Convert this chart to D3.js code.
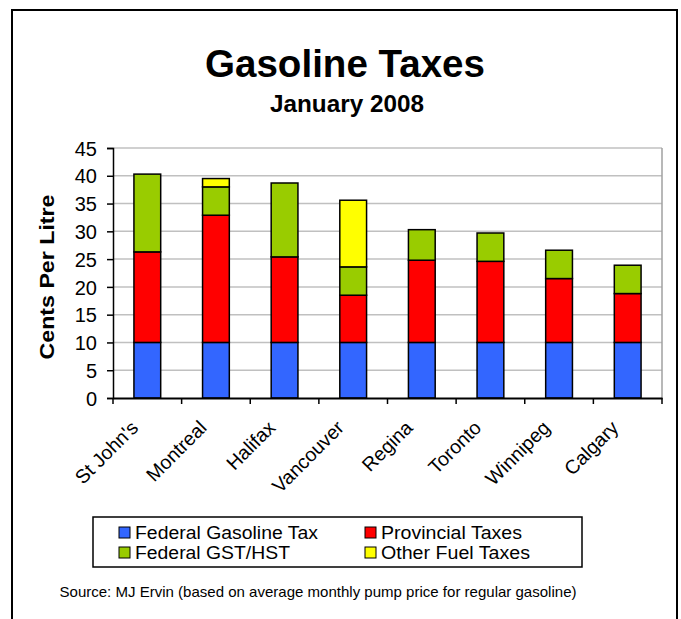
<!DOCTYPE html>
<html><head><meta charset="utf-8">
<script src="https://cdn.jsdelivr.net/npm/d3@7"></script>
<style>body{margin:0;background:#fff}svg{display:block}text{font-family:"Liberation Sans",Arial,sans-serif;fill:#000}</style>
</head><body><svg id="c" width="681" height="619"></svg>
<script>
const cities = ["St John's","Montreal","Halifax","Vancouver","Regina","Toronto","Winnipeg","Calgary"];
const federalGasolineTax = [10,10,10,10,10,10,10,10];
const provincialTaxes   = [16.3,22.9,15.4,8.5,14.8,14.6,11.5,8.8];
const federalGstHst     = [14.0,5.1,13.3,5.1,5.5,5.1,5.1,5.1];
const otherFuelTaxes    = [0,1.5,0,12.0,0,0,0,0];
const seriesNames = ["Federal Gasoline Tax","Provincial Taxes","Federal GST/HST","Other Fuel Taxes"];
const seriesColors = ["#3366FF","#FF0000","#99CC00","#FFFF00"];
const yTicks = [0,5,10,15,20,25,30,35,40,45];

const svg = d3.select("#c");
svg.append("path").attr("d","M12,625 V10 H677 V625").attr("fill","none").attr("stroke","#000").attr("stroke-width",2);

const L=113, R=662, T=148, B=398;
const x = d3.scaleBand().domain(cities).range([L,R]).paddingInner(0.61).paddingOuter(0.305);
const xb = d3.scaleBand().domain(cities).range([L,R]);
const y = d3.scaleLinear().domain([0,45]).range([B,T]);

svg.append("g").selectAll("line").data(yTicks.slice(1)).join("line")
  .attr("x1",L).attr("x2",R).attr("y1",d=>y(d)).attr("y2",d=>y(d))
  .attr("stroke","#c0c0c0").attr("stroke-width",1.5);
svg.append("line").attr("x1",R).attr("x2",R).attr("y1",T).attr("y2",B).attr("stroke","#a0a0a0").attr("stroke-width",1.5);

const rows = cities.map((c,i)=>({city:c,"Federal Gasoline Tax":federalGasolineTax[i],"Provincial Taxes":provincialTaxes[i],"Federal GST/HST":federalGstHst[i],"Other Fuel Taxes":otherFuelTaxes[i]}));
const stack = d3.stack().keys(seriesNames)(rows);
svg.append("g").selectAll("g").data(stack).join("g")
  .attr("fill",(d,i)=>seriesColors[i])
  .selectAll("rect").data(d=>d.filter(p=>p[1]-p[0]>0)).join("rect")
  .attr("x",d=>x(d.data.city)).attr("width",x.bandwidth())
  .attr("y",d=>y(d[1])).attr("height",d=>y(d[0])-y(d[1]))
  .attr("stroke","#000").attr("stroke-width",1.5);

const ya = svg.append("g").attr("transform",`translate(${L},0)`)
  .call(d3.axisLeft(y).tickValues(yTicks).tickSize(6).tickPadding(10));
ya.select(".domain").attr("stroke","#000").attr("stroke-width",1.5);
ya.selectAll(".tick line").attr("stroke","#000").attr("stroke-width",1.5);
ya.selectAll("text").attr("font-size",20).attr("dy","0.36em");

const xa = svg.append("g").attr("transform",`translate(0,${B})`)
  .call(d3.axisBottom(xb).tickSize(0).tickFormat(""));
xa.select(".domain").attr("stroke","#000").attr("stroke-width",2);
svg.append("g").selectAll("line").data(cities.concat(["_end"])).join("line")
  .attr("x1",(d,i)=>L+i*xb.bandwidth()).attr("x2",(d,i)=>L+i*xb.bandwidth())
  .attr("y1",B).attr("y2",B+6).attr("stroke","#000").attr("stroke-width",1.5);
svg.append("g").selectAll("text").data(cities).join("text")
  .attr("transform",d=>`translate(${xb(d)+xb.bandwidth()/2-8},${B+31}) rotate(-45)`)
  .attr("text-anchor","end").attr("font-size",19.5).text(d=>d);

svg.append("text").attr("transform","translate(54,277) rotate(-90)").attr("text-anchor","middle")
  .attr("font-size",21).attr("font-weight","bold")
  .attr("textLength",165).attr("lengthAdjust","spacingAndGlyphs").text("Cents Per Litre");

svg.append("text").attr("x",345).attr("y",77).attr("text-anchor","middle").attr("font-size",39).attr("font-weight","bold")
  .attr("textLength",280).attr("lengthAdjust","spacingAndGlyphs").text("Gasoline Taxes");
svg.append("text").attr("x",347).attr("y",112).attr("text-anchor","middle").attr("font-size",23).attr("font-weight","bold")
  .attr("textLength",154).attr("lengthAdjust","spacingAndGlyphs").text("January 2008");

svg.append("rect").attr("x",93).attr("y",517).attr("width",489).attr("height",50).attr("fill","#fff").attr("stroke","#000").attr("stroke-width",1.5);
const legPos = [[119,532],[365,532],[119,552],[365,552]];
const legLen = [183,141,155,149];
const lg = svg.append("g").selectAll("g").data(seriesNames).join("g")
  .attr("transform",(d,i)=>`translate(${legPos[i][0]},${legPos[i][1]})`);
lg.append("rect").attr("x",0).attr("y",-5).attr("width",11).attr("height",11).attr("fill",(d,i)=>seriesColors[i]).attr("stroke","#000").attr("stroke-width",1);
lg.append("text").attr("x",16).attr("y",1).attr("dy","0.36em").attr("font-size",17.5)
  .attr("textLength",(d,i)=>legLen[i]).attr("lengthAdjust","spacingAndGlyphs").text(d=>d);

svg.append("text").attr("x",318).attr("y",597).attr("text-anchor","middle").attr("font-size",15)
  .attr("textLength",517).attr("lengthAdjust","spacingAndGlyphs")
  .text("Source: MJ Ervin (based on average monthly pump price for regular gasoline)");
</script></body></html>
